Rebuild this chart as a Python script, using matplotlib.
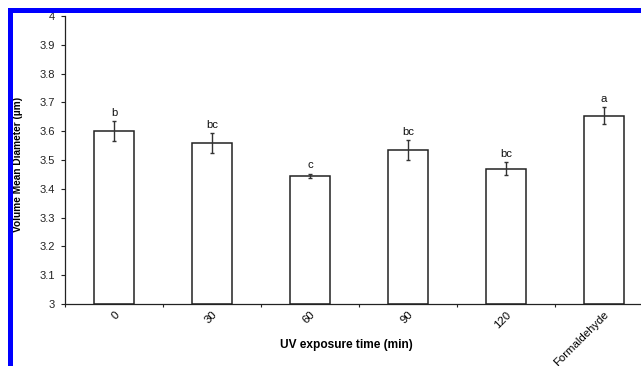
import matplotlib
matplotlib.use("Agg")
import matplotlib.pyplot as plt
from matplotlib.patches import Rectangle
from matplotlib.ticker import FixedLocator, NullFormatter, FixedFormatter

plt.rcParams['font.family'] = ['Liberation Sans', 'DejaVu Sans']

categories = ['0', '30', '60', '90', '120', 'Formaldehyde']
means = [3.600, 3.558, 3.445, 3.534, 3.470, 3.654]
errors = [0.034, 0.035, 0.007, 0.034, 0.022, 0.030]
letters = ['b', 'bc', 'c', 'bc', 'bc', 'a']
yticks = [3.0, 3.1, 3.2, 3.3, 3.4, 3.5, 3.6, 3.7, 3.8, 3.9, 4.0]
ytick_labels = ['3', '3.1', '3.2', '3.3', '3.4', '3.5', '3.6', '3.7', '3.8', '3.9', '4']

W, H = 641, 366
fig = plt.figure(figsize=(W / 100, H / 100), dpi=100)
ax_left, ax_right, ax_top, ax_bottom = 65, 641, 16, 304
ax = fig.add_axes([ax_left / W, 1 - ax_bottom / H, (ax_right - ax_left) / W, (ax_bottom - ax_top) / H])

x = list(range(len(categories)))
cat_px = 98.0
ax.bar(x, [m - 3.0 for m in means], bottom=3.0, width=0.41, color='white',
       edgecolor='#222222', linewidth=1.1, zorder=2)
ax.errorbar(x, means, yerr=errors, fmt='none', ecolor='#333333', elinewidth=1.0,
            capsize=1.7, capthick=1.0, zorder=3)
for xi, m, e, lab in zip(x, means, errors, letters):
    ax.annotate(lab, (xi, m + e), xytext=(0, 2.5), textcoords='offset points',
                ha='center', va='bottom', fontsize=8.2, color='#111111')

ax.set_xlim(-0.5, -0.5 + (ax_right - ax_left) / cat_px)
ax.set_ylim(3.0, 4.0)

ax.yaxis.set_major_locator(FixedLocator(yticks))
ax.yaxis.set_major_formatter(FixedFormatter(ytick_labels))
ax.tick_params(axis='y', direction='out', length=3, width=0.8, labelsize=8.0, pad=4, colors='#222222')

ax.xaxis.set_major_locator(FixedLocator([i - 0.5 for i in range(len(categories) + 1)]))
ax.xaxis.set_major_formatter(NullFormatter())
ax.xaxis.set_minor_locator(FixedLocator(x))
ax.xaxis.set_minor_formatter(FixedFormatter(categories))
ax.tick_params(axis='x', which='major', direction='out', length=2.5, width=0.8, colors='#222222')
ax.tick_params(axis='x', which='minor', length=0, labelsize=8.2, pad=4)
for t in ax.xaxis.get_minorticklabels():
    t.set_rotation(45)
    t.set_ha('right')
    t.set_va('top')
    t.set_rotation_mode('anchor')

for s in ['top', 'right']:
    ax.spines[s].set_visible(False)
for s in ['left', 'bottom']:
    ax.spines[s].set_color('#222222')
    ax.spines[s].set_linewidth(0.9)

fig.text(346 / W, 1 - 345 / H, 'UV exposure time (min)', ha='center', va='center',
         fontsize=8.6, fontweight='bold')
fig.text(18.5 / W, 1 - 164 / H, 'Volume Mean Diameter (\u00b5m)', ha='center', va='center',
         rotation=90, fontsize=7.3, fontweight='bold')

# blue frame
fig.patches.append(Rectangle((8 / W, 0), 5 / W, 1 - 8 / H, transform=fig.transFigure,
                             facecolor='#0000ff', edgecolor='none', zorder=10))
fig.patches.append(Rectangle((8 / W, 1 - 13 / H), 1 - 8 / W, 5 / H, transform=fig.transFigure,
                             facecolor='#0000ff', edgecolor='none', zorder=10))

fig.savefig('out.png', dpi=100)
